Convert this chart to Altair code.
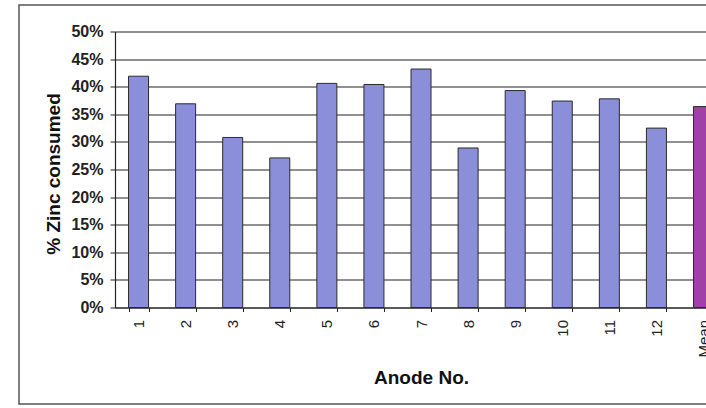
import altair as alt
import pandas as pd

# Zinc consumption per anode, plus the mean of all twelve
anodes = ["1", "2", "3", "4", "5", "6", "7", "8", "9", "10", "11", "12", "Mean"]
consumed = [0.419, 0.369, 0.308, 0.271, 0.406, 0.404, 0.432, 0.289,
            0.393, 0.374, 0.378, 0.325, 0.364]
kinds = ["Anode"] * 12 + ["Mean"]

df = pd.DataFrame({"anode": anodes, "consumed": consumed, "kind": kinds})

FONT = "Liberation Sans"
STEP = 47.08
N = len(anodes)

bars = alt.Chart(df).mark_bar(stroke="#2b2b2b", strokeWidth=1).encode(
    x=alt.X(
        "anode:N",
        sort=anodes,
        scale=alt.Scale(range=[0, STEP * N], paddingInner=0.575, paddingOuter=0.2875),
        axis=alt.Axis(
            title="Anode No.",
            titleFont=FONT, titleFontSize=19, titleFontWeight="bold", titleColor="#111",
            titleX=STEP * N / 2, titleY=75.5, titleBaseline="alphabetic", titleAlign="center",
            labelAngle=270, labelFont=FONT, labelFontSize=15, labelColor="#222",
            labelPadding=8, tickBand="extent", tickSize=4, tickColor="#222",
            domainColor="#222", domainWidth=1.2, grid=False,
        ),
    ),
    y=alt.Y(
        "consumed:Q",
        scale=alt.Scale(domain=[0, 0.5], nice=False),
        axis=alt.Axis(
            title="% Zinc consumed",
            titleFont=FONT, titleFontSize=19, titleFontWeight="bold", titleColor="#111",
            titleX=-56, titleY=142, titleAngle=270, titleBaseline="alphabetic",
            titleAlign="center",
            values=[i * 0.05 for i in range(11)], format=".0%",
            labelFont=FONT, labelFontSize=16, labelFontWeight="bold", labelColor="#222",
            labelPadding=7, tickSize=5, tickColor="#222",
            domainColor="#222", domainWidth=1.2,
            grid=True, gridColor="#222", gridWidth=1.2,
        ),
    ),
    color=alt.Color(
        "kind:N",
        scale=alt.Scale(domain=["Anode", "Mean"], range=["#8B8FD9", "#A040A8"]),
        legend=None,
    ),
)

frame = alt.Chart(pd.DataFrame({"f": [0]})).mark_rect(
    fill="transparent", stroke="#555", strokeWidth=1.5
).encode(
    x=alt.value(-96), x2=alt.value(800),
    y=alt.value(-26.5), y2=alt.value(372.5),
)

chart = alt.layer(bars, frame).properties(
    width=591,
    height=276,
    autosize=alt.AutoSizeParams(type="none"),
    padding={"left": 115, "top": 31.5, "right": 0, "bottom": 100.5},
    background="white",
).configure_view(stroke=None)

chart.save("out.html", embed_options={"renderer": "svg", "actions": False})
